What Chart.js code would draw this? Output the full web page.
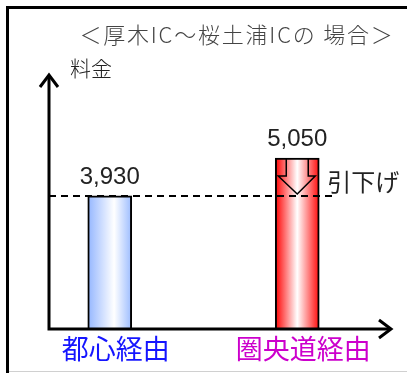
<!DOCTYPE html>
<html>
<head>
<meta charset="utf-8">
<script src="https://cdn.jsdelivr.net/npm/chart.js@4/dist/chart.umd.min.js"></script>
<style>
  html, body { margin: 0; padding: 0; background: #fff; }
  #chart { display: block; }
</style>
</head>
<body>
<canvas id="chart" width="407" height="373"></canvas>
<script>
var categories = ['都心経由', '圏央道経由'];
var fares = [3930, 5050];
var fareLabels = ['3,930', '5,050'];
var labelColors = ['#1515ff', '#cc00cc'];
var titleText = '＜厚木IC～桜土浦ICの 場合＞';
var axisTitle = '料金';
var noteText = '引下げ';
var yMax = 7650;

var JP = '"Noto Sans CJK JP", sans-serif';

function barFill(c) {
  var chart = c.chart, xs = chart.scales.x;
  if (!xs || !chart.chartArea) return '#fff';
  var cx = xs.getPixelForValue(c.dataIndex);
  var g = chart.ctx.createLinearGradient(cx - 22, 0, cx + 22, 0);
  if (c.dataIndex === 0) {
    g.addColorStop(0, '#94b6ff');
    g.addColorStop(0.6, '#ffffff');
    g.addColorStop(1, '#9cbcff');
  } else {
    g.addColorStop(0, '#ff0000');
    g.addColorStop(0.5, '#ffffff');
    g.addColorStop(1, '#ff0a0a');
  }
  return g;
}

var decor = {
  id: 'decor',
  beforeDraw: function(chart) {
    var ctx = chart.ctx;
    ctx.save();
    ctx.fillStyle = '#fff';
    ctx.fillRect(0, 0, chart.width, chart.height);
    ctx.fillStyle = '#000';
    ctx.fillRect(6, 6, chart.width - 6, 3);
    ctx.fillRect(6, 6, 3, chart.height - 6);
    ctx.fillStyle = '#d0d0d0';
    ctx.fillRect(9, chart.height - 2, chart.width - 9, 1);
    ctx.restore();
  },
  afterDatasetsDraw: function(chart) {
    var ctx = chart.ctx, area = chart.chartArea;
    var xs = chart.scales.x, ys = chart.scales.y;
    var meta = chart.getDatasetMeta(0);
    var ax = 49, base = area.bottom, tipY = area.top + 4, tipX = area.right + 1;
    ctx.save();

    // reference line at the first fare
    var refY = Math.round(ys.getPixelForValue(fares[0]));
    ctx.strokeStyle = '#000';
    ctx.lineWidth = 2;
    ctx.setLineDash([7, 5]);
    ctx.beginPath();
    ctx.moveTo(ax, refY);
    ctx.lineTo(337, refY);
    ctx.stroke();
    ctx.setLineDash([]);

    // down arrow inside the second bar
    var bar = meta.data[1];
    var bx = bar.x, bt = bar.y;
    ctx.lineWidth = 1.5;
    ctx.beginPath();
    ctx.moveTo(bx - 11, bt);
    ctx.lineTo(bx - 11, bt + 18);
    ctx.lineTo(bx - 19, bt + 18);
    ctx.lineTo(bx, bt + 36);
    ctx.lineTo(bx + 18, bt + 18);
    ctx.lineTo(bx + 11, bt + 18);
    ctx.lineTo(bx + 11, bt);
    ctx.stroke();

    // axes with arrow heads
    ctx.lineWidth = 3;
    ctx.lineCap = 'butt';
    ctx.lineJoin = 'miter';
    ctx.beginPath();
    ctx.moveTo(ax, base + 1.5);
    ctx.lineTo(ax, tipY + 1);
    ctx.moveTo(ax - 1.5, base);
    ctx.lineTo(tipX - 1, base);
    ctx.stroke();
    ctx.beginPath();
    ctx.moveTo(ax - 9, tipY + 13);
    ctx.lineTo(ax, tipY + 1);
    ctx.lineTo(ax + 9, tipY + 13);
    ctx.moveTo(tipX - 13, base - 9);
    ctx.lineTo(tipX - 1, base);
    ctx.lineTo(tipX - 13, base + 9);
    ctx.stroke();

    // texts
    ctx.textBaseline = 'middle';
    ctx.textAlign = 'center';
    ctx.fillStyle = '#444';
    ctx.font = '300 22px ' + JP;
    ctx.letterSpacing = '1.8px';
    ctx.fillText(titleText, 237, 35);
    ctx.letterSpacing = '0px';
    ctx.fillStyle = '#222';
    ctx.font = '300 21px ' + JP;
    ctx.fillText(axisTitle, 91, 68);

    ctx.font = '24px "Liberation Sans", Arial, sans-serif';
    for (var i = 0; i < fares.length; i++) {
      var el = meta.data[i];
      ctx.fillText(fareLabels[i], el.x, el.y - 19);
    }
    ctx.textAlign = 'left';
    ctx.font = '24px ' + JP;
    ctx.fillText(noteText, bx + 30, 182);

    ctx.textAlign = 'center';
    ctx.font = '27px ' + JP;
    for (var j = 0; j < categories.length; j++) {
      ctx.fillStyle = labelColors[j];
      ctx.fillText(categories[j], xs.getPixelForValue(j) + 6, 349);
    }
    ctx.restore();
  }
};

new Chart(document.getElementById('chart'), {
  type: 'bar',
  data: {
    labels: categories,
    datasets: [{
      data: fares,
      backgroundColor: barFill,
      borderColor: '#000',
      borderWidth: 2,
      barThickness: 44
    }]
  },
  options: {
    responsive: false,
    animation: false,
    layout: { padding: { left: 16, right: 16, top: 70, bottom: 44 } },
    plugins: { legend: { display: false }, tooltip: { enabled: false }, title: { display: false } },
    scales: {
      x: { display: false },
      y: { display: false, min: 0, max: yMax }
    }
  },
  plugins: [decor]
});
</script>
</body>
</html>
